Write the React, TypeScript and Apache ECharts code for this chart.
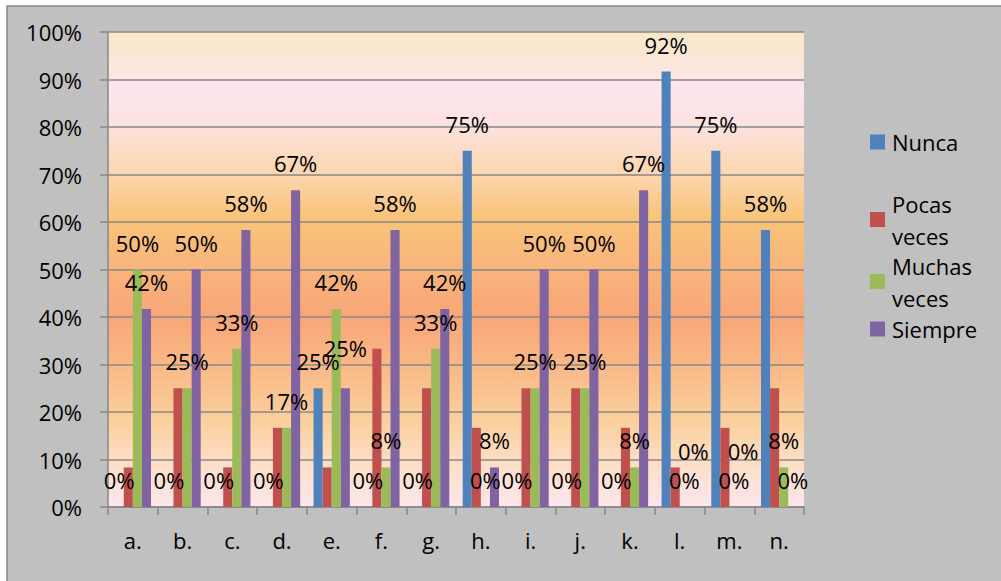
import React, { useEffect, useRef } from "react";
import * as echarts from "echarts";

const categories = ["a.", "b.", "c.", "d.", "e.", "f.", "g.", "h.", "i.", "j.", "k.", "l.", "m.", "n."];
const seriesNames = ["Nunca", "Pocas veces", "Muchas veces", "Siempre"];
const nunca = [0, 0, 0, 0, 25, 0, 0, 75, 0, 0, 0, 91.67, 75, 58.33];
const pocasVeces = [8.33, 25, 8.33, 16.67, 8.33, 33.33, 25, 16.67, 25, 25, 16.67, 8.33, 16.67, 25];
const muchasVeces = [50, 25, 33.33, 16.67, 41.67, 8.33, 33.33, 0, 25, 25, 8.33, 0, 0, 8.33];
const siempre = [41.67, 50, 58.33, 66.67, 25, 58.33, 41.67, 8.33, 50, 50, 66.67, 0, 0, 0];
const yTicks = [0, 10, 20, 30, 40, 50, 60, 70, 80, 90, 100];

const colors = ["#4f81bd", "#c0504d", "#9bbb59", "#8064a2"];
const FONT = "'Open Sans', 'Noto Sans', sans-serif";

// label nudges seen in the picture (series index -> category index -> dy)
const labelNudge: Record<number, Record<number, number>> = {
  3: { 4: -13, 11: -29, 12: -29 },
};

export default function App() {
  const ref = useRef<HTMLDivElement>(null);
  useEffect(() => {
    if (!ref.current) return;
    const chart = echarts.init(ref.current, null, { renderer: "svg" });
    const allData = [nunca, pocasVeces, muchasVeces, siempre];
    const showLabel = [true, false, true, true];

    const series = allData.map((vals, si) => ({
      name: seriesNames[si],
      type: "bar",
      barGap: "0%",
      barCategoryGap: "27%",
      itemStyle: { color: colors[si] },
      label: {
        show: showLabel[si],
        position: "top",
        distance: 16,
        color: "#000",
        fontFamily: FONT,
        fontSize: 22,
        lineHeight: 22,
        formatter: (p: any) => Math.round(p.value) + "%",
      },
      data: vals.map((v, ci) => {
        const dy = labelNudge[si] && labelNudge[si][ci];
        return dy ? { value: v, label: { offset: [0, dy] } } : v;
      }),
    }));

    const legendTop = [126, 171.5, 233.5, 313];
    const legendText: Record<string, string> = {
      "Nunca": "Nunca",
      "Pocas veces": "Pocas\nveces",
      "Muchas veces": "Muchas\nveces",
      "Siempre": "Siempre",
    };
    const legends = seriesNames.map((n, i) => {
      const twoLine = legendText[n].indexOf("\n") >= 0;
      return {
        data: [n],
        left: 870,
        top: legendTop[i],
        orient: "vertical",
        padding: 0,
        icon: "rect",
        itemWidth: 15,
        itemHeight: 15,
        selectedMode: false,
        formatter: (name: string) => legendText[name],
        textStyle: {
          color: "#000",
          fontFamily: FONT,
          fontSize: 22,
          lineHeight: 32,
          padding: twoLine ? [32, 0, 0, 2] : [0, 0, 0, 2],
        },
      };
    });

    chart.setOption({
      animation: false,
      graphic: [
        {
          type: "rect",
          shape: { x: 7, y: 6, width: 1010, height: 590 },
          style: { fill: "#c0c0c0", stroke: "#888888", lineWidth: 1.5 },
          z: -10,
        },
      ],
      legend: legends,
      grid: {
        left: 108,
        top: 32,
        right: 197,
        bottom: 74,
        show: true,
        borderWidth: 0,
        backgroundColor: new echarts.graphic.LinearGradient(0, 0, 0, 1, [
          { offset: 0, color: "#fbe8c8" },
          { offset: 0.13, color: "#fde5ef" },
          { offset: 0.2, color: "#fde2de" },
          { offset: 0.3, color: "#fcd6ae" },
          { offset: 0.39, color: "#f9c47a" },
          { offset: 0.5, color: "#f9b47c" },
          { offset: 0.6, color: "#f8a677" },
          { offset: 0.7, color: "#f9b886" },
          { offset: 0.82, color: "#fbd09d" },
          { offset: 0.92, color: "#fde0cc" },
          { offset: 1, color: "#fde6ec" },
        ]),
      },
      xAxis: {
        type: "category",
        data: categories,
        axisLine: { show: true, lineStyle: { color: "#888", width: 1.5 } },
        axisTick: { show: true, length: 8, alignWithLabel: false, lineStyle: { color: "#888", width: 1.5 } },
        axisLabel: { color: "#000", fontFamily: FONT, fontSize: 22, margin: 22 },
      },
      yAxis: {
        type: "value",
        min: yTicks[0],
        max: yTicks[yTicks.length - 1],
        interval: 10,
        axisLine: { show: true, lineStyle: { color: "#888", width: 1.5 } },
        axisTick: { show: true, length: 8, lineStyle: { color: "#888", width: 1.5 } },
        axisLabel: { color: "#000", fontFamily: FONT, fontSize: 22, margin: 26, formatter: "{value}%" },
        splitLine: { show: true, lineStyle: { color: "#888", width: 1.5 } },
      },
      series,
    });
    return () => chart.dispose();
  }, []);

  return (
    <div
      ref={ref}
      style={{ position: "fixed", left: 0, top: 0, width: 1001, height: 581, background: "#fff" }}
    />
  );
}
